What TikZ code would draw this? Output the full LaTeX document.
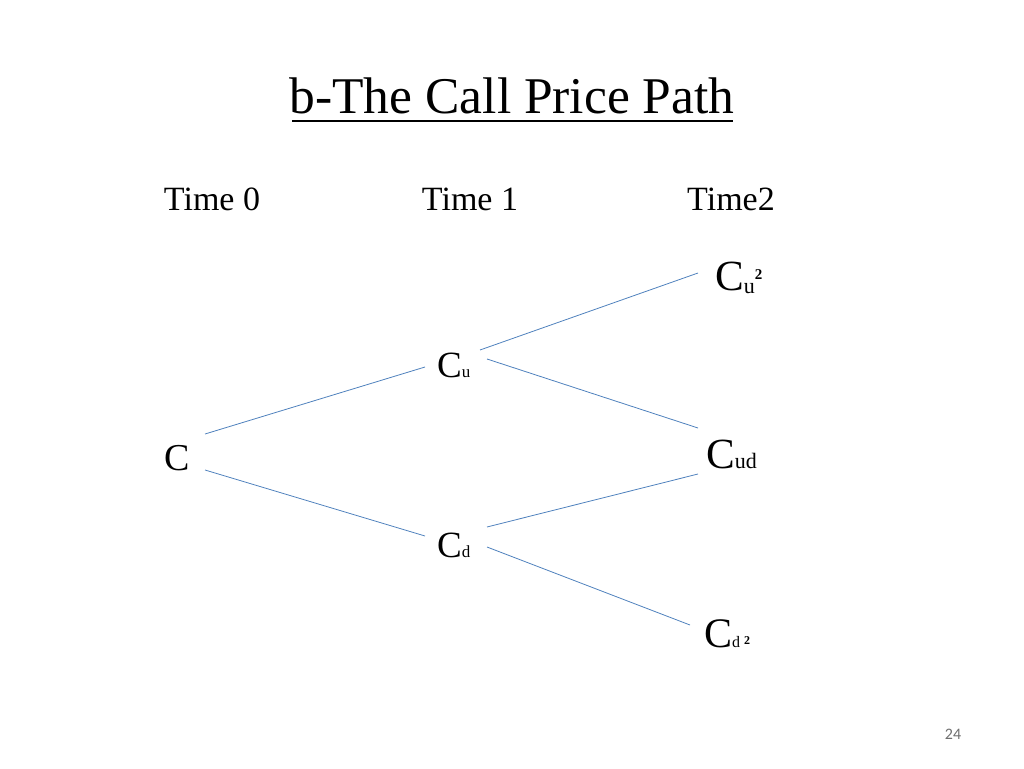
\documentclass[tikz,border=0pt]{standalone}
\usepackage{fontspec}
\setmainfont{Liberation Serif}
\newfontfamily\pagefont{Carlito}
\definecolor{linkblue}{RGB}{79,129,189}
\definecolor{pagegray}{RGB}{110,110,110}
\newcommand{\fsz}[1]{\fontsize{#1}{#1}\selectfont}
\begin{document}
\begin{tikzpicture}[x=1pt,y=-1pt,
  link/.style={draw=linkblue,line width=0.8pt},
  lbl/.style={inner sep=0pt,anchor=base west},
  timelbl/.style={inner sep=0pt,anchor=base,font=\fsz{34}}]
\useasboundingbox (0,0) rectangle (1024,768);
% title
\node[inner sep=0pt,anchor=base] (title) at (512,113) {\fsz{51.5}b-The Call Price Path};
\draw[line width=1.3pt] (292,121) -- (733,121);
% time labels
\node[timelbl] (t0) at (212,210) {Time 0};
\node[timelbl] (t1) at (470,210) {Time 1};
\node[timelbl] (t2) at (731,210) {Time2};
% nodes
\node[lbl] (c) at (164,470) {\fsz{38}C};
\node[lbl] (cu) at (437,377) {\fsz{37}C\fsz{17}u};
\node[lbl] (cd) at (437,557) {\fsz{37}C\fsz{17}d};
\node[lbl] (cuu) at (715,290) {\fsz{43}C\raisebox{-3pt}{\fsz{22}u}\raisebox{11pt}{\fsz{15}\bfseries 2}};
\node[lbl] (cud) at (706,468) {\fsz{43}C\fsz{22}ud};
\node[lbl] (cdd) at (704,647) {\fsz{42}C\fsz{16}d\hspace{4pt}\raisebox{3pt}{\fsz{12}\bfseries 2}};
% connector ends
\coordinate (c-up) at (205,434);
\coordinate (c-dn) at (205,470);
\coordinate (cu-in) at (425,367);
\coordinate (cd-in) at (425,536);
\coordinate (cu-up) at (480,350);
\coordinate (cu-dn) at (487,359);
\coordinate (cd-up) at (487,527);
\coordinate (cd-dn) at (487,547);
\coordinate (cuu-in) at (698,273);
\coordinate (cud-up) at (698,428);
\coordinate (cud-dn) at (698,474);
\coordinate (cdd-in) at (690,625);
\draw[link] (c-up) -- (cu-in);
\draw[link] (c-dn) -- (cd-in);
\draw[link] (cu-up) -- (cuu-in);
\draw[link] (cu-dn) -- (cud-up);
\draw[link] (cd-up) -- (cud-dn);
\draw[link] (cd-dn) -- (cdd-in);
% page number
\node[inner sep=0pt,anchor=base,text=pagegray] (pg) at (953,739) {\pagefont\fsz{16}24};
\end{tikzpicture}
\end{document}
